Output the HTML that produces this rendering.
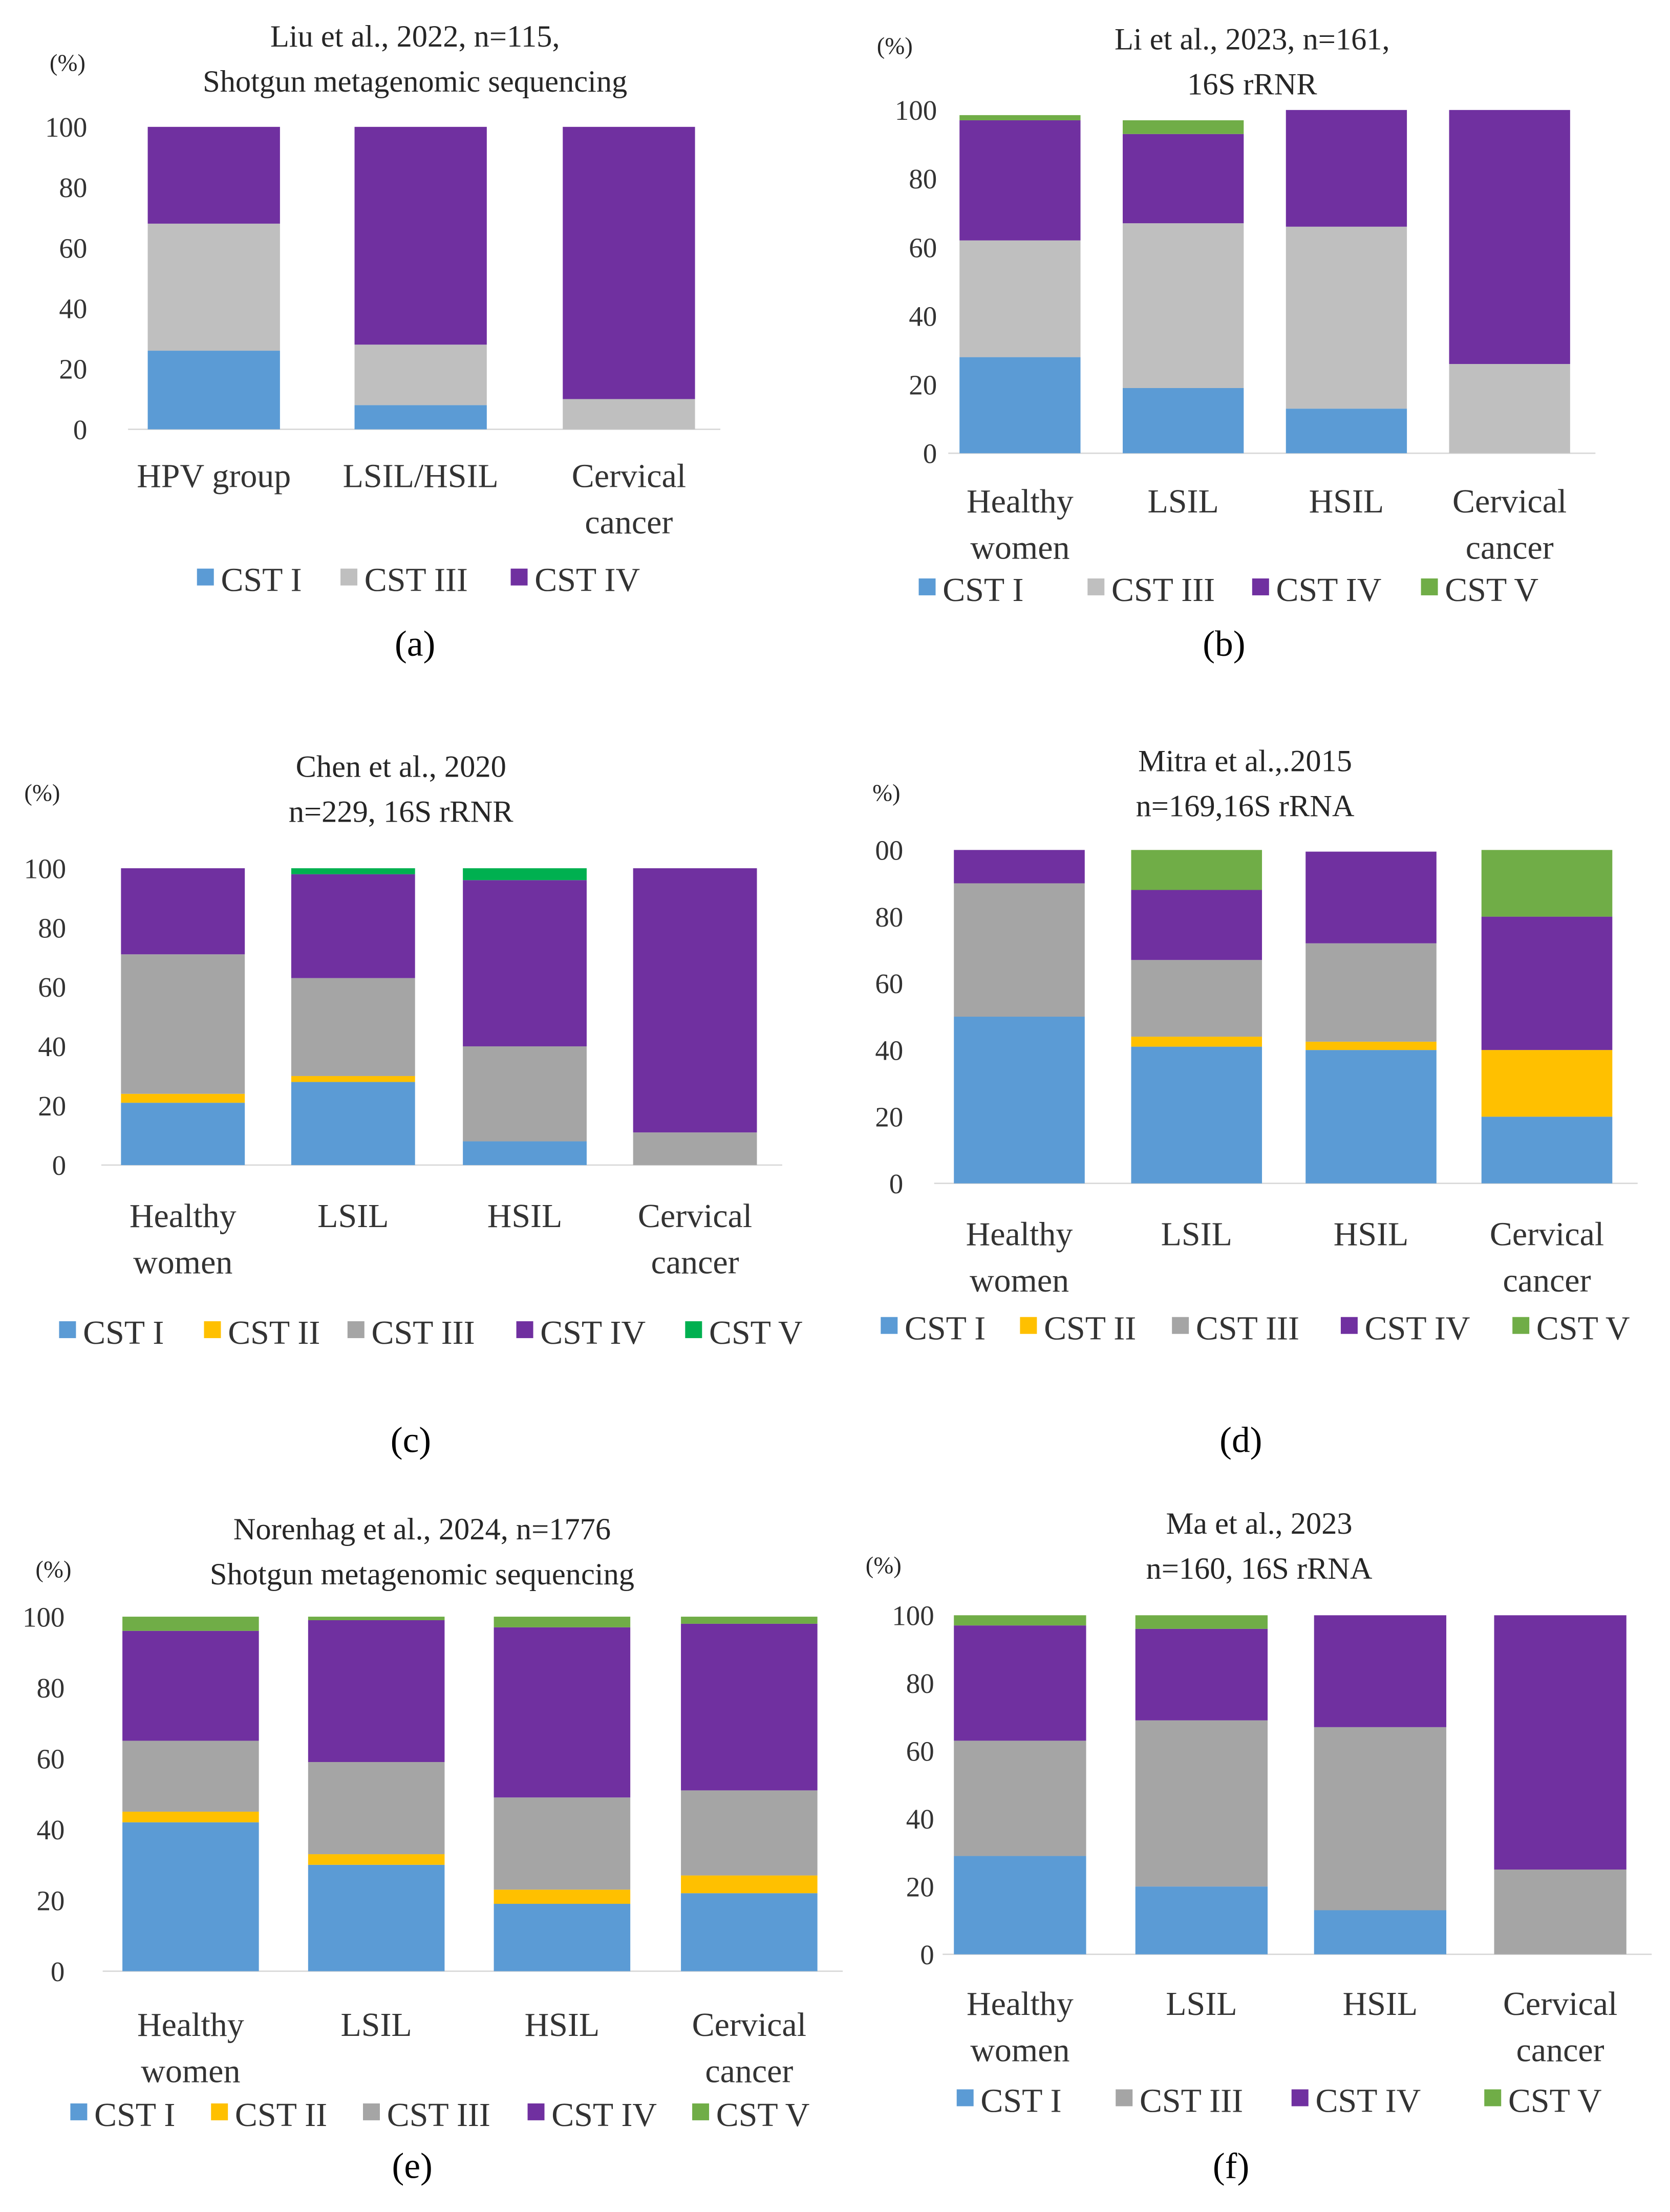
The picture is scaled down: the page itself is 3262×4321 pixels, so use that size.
<!DOCTYPE html>
<html><head><meta charset="utf-8">
<style>
html,body{margin:0;padding:0;background:#fff;}
svg{display:block;}
text{font-family:"Liberation Serif",serif;}
</style></head>
<body>
<svg id="fig" width="3262" height="4321" viewBox="0 0 1187 1572" xmlns="http://www.w3.org/2000/svg"></svg>
<script>
// ---- data ----
const colorsByName = {"CST I":"#5b9bd5","CST II":"#ffc000","CST III":"#a5a5a5","CST IV":"#7030a0","CST V":"#70ad47"};
const catsA = [["HPV group"],["LSIL/HSIL"],["Cervical","cancer"]];
const seriesA = ["CST I","CST III","CST IV"];
const valsA = [[26,8,0],[42,20,10],[32,72,90]];
const catsB = [["Healthy","women"],["LSIL"],["HSIL"],["Cervical","cancer"]];
const seriesB = ["CST I","CST III","CST IV","CST V"];
const valsB = [[28,19,13,0],[34,48,53,26],[35,26,34,74],[1.5,4,0,0]];
const catsC = [["Healthy","women"],["LSIL"],["HSIL"],["Cervical","cancer"]];
const seriesC = ["CST I","CST II","CST III","CST IV","CST V"];
const valsC = [[21,28,8,0],[3,2,0,0],[47,33,32,11],[29,35,56,89],[0,2,4,0]];
const catsD = [["Healthy","women"],["LSIL"],["HSIL"],["Cervical","cancer"]];
const seriesD = ["CST I","CST II","CST III","CST IV","CST V"];
const valsD = [[50,41,40,20],[0,3,2.5,20],[40,23,29.5,0],[10,21,27.5,40],[0,12,0,20]];
const catsE = [["Healthy","women"],["LSIL"],["HSIL"],["Cervical","cancer"]];
const seriesE = ["CST I","CST II","CST III","CST IV","CST V"];
const valsE = [[42,30,19,22],[3,3,4,5],[20,26,26,24],[31,40,48,47],[4,1,3,2]];
const catsF = [["Healthy","women"],["LSIL"],["HSIL"],["Cervical","cancer"]];
const seriesF = ["CST I","CST III","CST IV","CST V"];
const valsF = [[29,20,13,0],[34,49,54,25],[34,27,33,75],[3,4,0,0]];
const ticks = [0,20,40,60,80,100];

const NS="http://www.w3.org/2000/svg";
const svg=document.getElementById('fig');
function mk(tag,attrs,parent){const e=document.createElementNS(NS,tag);for(const k in attrs)e.setAttribute(k,attrs[k]);(parent||svg).appendChild(e);return e;}
function txt(x,y,s,size,anchor,parent,fill){const t=mk('text',{x:x,y:y,'font-size':size,'text-anchor':anchor||'middle',fill:fill||'#262626'},parent);t.textContent=s;return t;}

function panel(p){
  const g=mk('g',{});
  
  
  const y=v=>p.y0+(p.y100-p.y0)*v/100;
  p.title.forEach((s,i)=>{const t=txt(p.tx,p.ty+i*32,s,22,'middle',g);});
  const pc=txt(p.px,p.py,p.pct||'(%)',17,'middle',g);
  ticks.forEach(tv=>{const t=txt(p.lx,y(tv)+7,p.tickfmt?p.tickfmt(tv):String(tv),20,'end',g,'#333');});
  const ax=mk('line',{x1:p.bx[0]-(p.axl||14),x2:p.bx[p.bx.length-1]+p.bw+18,y1:p.y0,y2:p.y0,stroke:'#d9d9d9','stroke-width':1},g);
  
  p.cats.forEach((c,ci)=>{
    let acc=0;
    p.series.forEach((sn,si)=>{
      const v=p.vals[si][ci];
      if(v>0){
        const r=mk('rect',{x:p.bx[ci],y:y(acc+v),width:p.bw,height:y(acc)-y(acc+v),fill:(sn==='CST III'&&p.lightGray)?'#bfbfbf':(sn==='CST V'&&p.green)?p.green:colorsByName[sn]},g);
        
        
      }
      acc+=v;
    });
    c.forEach((s,li)=>{const t=txt(p.bx[ci]+p.bw/2,p.cy+li*33,s,24,'middle',g,'#333');});
  });
  p.series.forEach((sn,si)=>{
    const lx=p.legx[si];
    const sw=mk('rect',{x:lx,y:p.legy-16,width:12,height:12,fill:(sn==='CST III'&&p.lightGray)?'#bfbfbf':(sn==='CST V'&&p.green)?p.green:colorsByName[sn]},g);
    
    const t=txt(lx+17,p.legy,sn,24,'start',g,'#333');
  });
  const lab=txt(p.labx,p.laby,p.label,26,'middle',g,'#000');
}

panel({id:'a',title:["Liu et al., 2022,  n=115,","Shotgun metagenomic sequencing"],tx:295,ty:33,px:48,py:50,lx:62,y0:305,y100:90,
  cats:catsA,series:seriesA,vals:valsA,bx:[105,252,400],bw:94,cy:346,legx:[140,242,363],legy:420,lightGray:true,labx:295,laby:466,label:'(a)'});
panel({id:'b',title:["Li et al., 2023, n=161,","16S rRNR"],tx:890,ty:35,px:636,py:38,lx:666,axl:8,y0:322,y100:78,
  cats:catsB,series:seriesB,vals:valsB,bx:[682,798,914,1030],bw:86,cy:364,legx:[653,773,890,1010],legy:427,lightGray:true,labx:870,laby:466,label:'(b)'});
panel({id:'c',title:["Chen et al., 2020","n=229, 16S rRNR"],tx:285,ty:552,px:30,py:569,lx:47,y0:828,y100:617,
  cats:catsC,series:seriesC,vals:valsC,bx:[86,207,329,450],bw:88,cy:872,legx:[42,145,247,367,487],legy:955,green:'#00b050',labx:292,laby:1032,label:'(c)'});
panel({id:'d',title:["Mitra et al.,.2015","n=169,16S rRNA"],tx:885,ty:548,px:630,py:569,pct:'%)',lx:642,y0:841,y100:604,tickfmt:v=>v===100?'00':String(v),
  cats:catsD,series:seriesD,vals:valsD,bx:[678,804,928,1053],bw:93,cy:885,legx:[626,725,833,953,1075],legy:952,labx:882,laby:1032,label:'(d)'});
panel({id:'e',title:["Norenhag et al., 2024, n=1776","Shotgun metagenomic sequencing"],tx:300,ty:1094,px:38,py:1121,lx:46,y0:1401,y100:1149,
  cats:catsE,series:seriesE,vals:valsE,bx:[87,219,351,484],bw:97,cy:1447,legx:[50,150,258,375,492],legy:1511,labx:293,laby:1548,label:'(e)'});
panel({id:'f',title:["Ma et al., 2023","n=160, 16S rRNA"],tx:895,ty:1090,px:628,py:1118,lx:664,axl:8,y0:1389,y100:1148,
  cats:catsF,series:seriesF,vals:valsF,bx:[678,807,934,1062],bw:94,cy:1432,legx:[680,793,918,1055],legy:1501,labx:875,laby:1548,label:'(f)'});
</script>
</body></html>
